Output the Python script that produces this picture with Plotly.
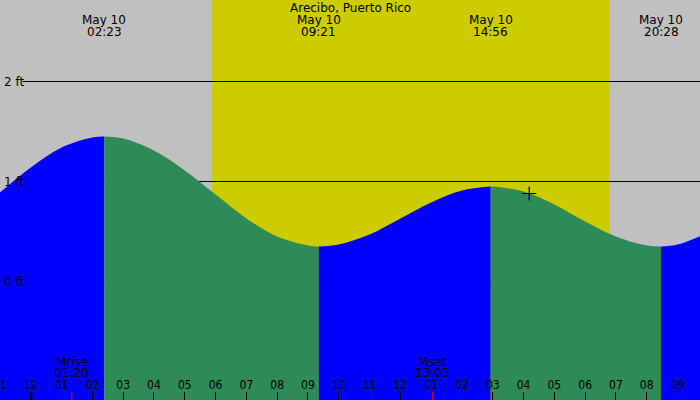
import plotly.graph_objects as go

# Tide station and date
station = "Arecibo, Puerto Rico"
day_label = "May 10"

# Tide heights (ft), hourly; hour -1 = 23:00 the previous day
hours = list(range(-1, 23))
heights = [0.89, 1.14, 1.34, 1.44, 1.43, 1.31, 1.11, 0.87, 0.63, 0.45, 0.36, 0.37,
           0.47, 0.63, 0.79, 0.91, 0.95, 0.90, 0.77, 0.60, 0.45, 0.36, 0.37, 0.49]

# High / low tides
extreme_times = ["02:23", "09:21", "14:56", "20:28"]
extreme_heights = [1.45, 0.35, 0.95, 0.35]

# Sun and moon
sunrise, sunset = "05:53", "18:47"
moon_events = ["Mrise", "Mset"]
moon_times = ["01:20", "13:03"]

# Current time marker
now_time, now_height = "16:11", 0.88

# Axis labels
tick_hours = list(range(-1, 22))
tick_text = ["11", "12", "01", "02", "03", "04", "05", "06", "07", "08", "09", "10",
             "11", "12", "01", "02", "03", "04", "05", "06", "07", "08", "09"]
grid_levels = [0, 1, 2]

x_range = [-1.0, 21.73]
y_range = [-1.185, 2.815]

RISE = "#0000ff"
FALL = "#2e8b57"
DAY = "#cccc00"
NIGHT = "#c0c0c0"
FONT = "DejaVu Sans"


def to_hours(hhmm):
    h, m = hhmm.split(":")
    return int(h) + int(m) / 60


ext_x = [to_hours(t) for t in extreme_times]

# merge hourly readings and extremes, then split at each high/low
pts = sorted(list(zip(hours, heights)) + list(zip(ext_x, extreme_heights)))
bounds = [min(hours)] + ext_x + [max(hours)]

fig = go.Figure()
for i in range(len(bounds) - 1):
    lo, hi = bounds[i], bounds[i + 1]
    seg = [(t, h) for t, h in pts if lo <= t <= hi]
    sx = [p[0] for p in seg]
    sy = [p[1] for p in seg]
    color = RISE if i % 2 == 0 else FALL
    # invisible floor for the fill to reach the bottom of the plot
    fig.add_trace(go.Scatter(x=[sx[0], sx[-1]], y=[y_range[0] - 0.05] * 2,
                             mode="lines", line=dict(width=0),
                             hoverinfo="skip", showlegend=False))
    fig.add_trace(go.Scatter(x=sx, y=sy, mode="lines", fill="tonexty",
                             fillcolor=color,
                             line=dict(width=0, shape="spline", color=color),
                             hoverinfo="skip", showlegend=False))

fig.add_trace(go.Scatter(x=[to_hours(now_time)], y=[now_height], mode="markers",
                         marker=dict(symbol="cross-thin", size=10,
                                     line=dict(color="black", width=1.2)),
                         hoverinfo="skip", showlegend=False))

shapes = [dict(type="rect", xref="x", yref="paper", x0=to_hours(sunrise),
               x1=to_hours(sunset), y0=0, y1=1, fillcolor=DAY, line_width=0,
               layer="below")]
for g in grid_levels:
    shapes.append(dict(type="line", xref="x", yref="y", x0=-0.27, x1=x_range[1],
                       y0=g, y1=g, line=dict(color="black", width=1), layer="below"))
# thick midnight tick and moon ticks
shapes.append(dict(type="line", xref="x", yref="paper", x0=0, x1=0, y0=0, y1=0.02,
                   line=dict(color="black", width=3)))
for t in moon_times:
    shapes.append(dict(type="line", xref="x", yref="paper", x0=to_hours(t),
                       x1=to_hours(t), y0=0, y1=0.02,
                       line=dict(color="red", width=1)))

annotations = []


def label(text, x, ypx, xref="x"):
    annotations.append(dict(text=text, x=x, xref=xref, y=1 - ypx / 400, yref="paper",
                            showarrow=False, xanchor="center", yanchor="middle",
                            font=dict(family=FONT, size=12, color="black")))


label(station, 0.5, 8, xref="paper")
for t, x in zip(extreme_times, ext_x):
    label(day_label, x, 20)
    label(t, x, 32)
for ev, t in zip(moon_events, moon_times):
    label(ev, to_hours(t), 362)
    label(t, to_hours(t), 373)
for g in grid_levels:
    annotations.append(dict(text=f"{g} ft", x=0, xref="paper", xshift=2, y=g, yref="y",
                            showarrow=False, xanchor="left", yanchor="middle",
                            font=dict(family=FONT, size=12, color="black")))

fig.update_layout(
    width=700, height=400,
    margin=dict(l=0, r=0, t=0, b=0),
    paper_bgcolor=NIGHT, plot_bgcolor=NIGHT,
    shapes=shapes, annotations=annotations,
    showlegend=False,
    xaxis=dict(range=x_range, showgrid=False, zeroline=False, showline=False,
               automargin=False,
               tickmode="array", tickvals=tick_hours, ticktext=tick_text,
               ticks="inside", ticklen=8, tickcolor="black", tickwidth=1,
               ticklabelposition="inside", ticklabeloverflow="allow",
               tickfont=dict(family="DejaVu Sans Condensed, DejaVu Sans", size=12,
                             color="black")),
    yaxis=dict(range=y_range, showgrid=False, zeroline=False, showline=False,
               automargin=False, showticklabels=False, ticks=""),
)

fig.write_html("out.html", config={"displayModeBar": False},
               post_script="document.body.style.margin = '0';")
